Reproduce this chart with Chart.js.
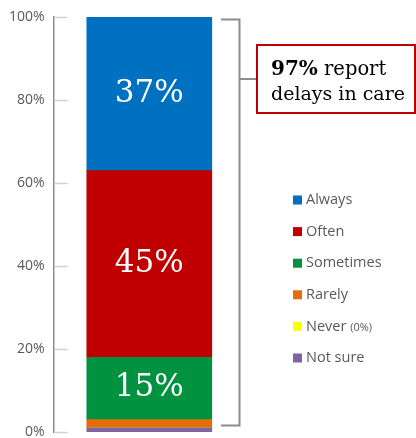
<!DOCTYPE html>
<html>
<head>
<meta charset="utf-8">
<script src="https://cdn.jsdelivr.net/npm/chart.js@4"></script>
<style>
  html, body { margin: 0; padding: 0; background: #fff; }
  #wrap { width: 416px; height: 438px; position: relative; }
</style>
</head>
<body>
<div id="wrap"><canvas id="myChartDelays"></canvas></div>
<script>
// Delays in care - START
const categories = [''];
// stacked bottom -> top
const seriesNames = ['Not sure', 'Never', 'Rarely', 'Sometimes', 'Often', 'Always'];
const seriesValues = [1, 0, 2, 15, 45, 37];
const seriesColors = ['#8064a2', '#ffff00', '#e46c0a', '#00923f', '#c00000', '#0070c0'];
const yTicks = [0, 20, 40, 60, 80, 100];
const reportedShare = 97;

const datasets = seriesNames.map(function (name, i) {
    return {
        label: name,
        data: [seriesValues[i]],
        backgroundColor: seriesColors[i],
        borderWidth: 0,
        barThickness: 125
    };
});

const greyText = '#595959';

// labels inside the big segments
const segmentLabels = {
    id: 'segmentLabels',
    afterDatasetsDraw(chart) {
        const ctx = chart.ctx;
        ctx.save();
        ctx.fillStyle = '#fff';
        ctx.font = '31px "DejaVu Serif"';
        ctx.textAlign = 'center';
        ctx.textBaseline = 'middle';
        chart.data.datasets.forEach(function (ds, i) {
            if (ds.data[0] < 10) return;
            const bar = chart.getDatasetMeta(i).data[0];
            ctx.fillText(ds.data[0] + '%', bar.x, (bar.y + bar.base) / 2);
        });
        ctx.restore();
    }
};

// tick marks drawn to the right of the axis line
const innerTicks = {
    id: 'innerTicks',
    afterDraw(chart) {
        const ctx = chart.ctx;
        const y = chart.scales.y;
        ctx.save();
        ctx.strokeStyle = '#d0d0d0';
        ctx.lineWidth = 1.5;
        yTicks.forEach(function (v) {
            const py = Math.round(y.getPixelForValue(v)) + 0.5;
            ctx.beginPath();
            ctx.moveTo(y.right + 1, py);
            ctx.lineTo(y.right + 14, py);
            ctx.stroke();
        });
        ctx.restore();
    }
};

// bracket + callout box
const callout = {
    id: 'callout',
    afterDraw(chart) {
        const ctx = chart.ctx;
        const y = chart.scales.y;
        const top = y.getPixelForValue(100) + 2.5;
        const bottom = y.getPixelForValue(100 - reportedShare) + 6;
        const bx = 239.5;
        ctx.save();
        ctx.strokeStyle = '#8c8c8c';
        ctx.lineWidth = 2;
        ctx.beginPath();
        ctx.moveTo(221, top);
        ctx.lineTo(bx, top);
        ctx.lineTo(bx, bottom);
        ctx.lineTo(221, bottom);
        ctx.stroke();
        ctx.beginPath();
        ctx.moveTo(bx, 79);
        ctx.lineTo(257, 79);
        ctx.stroke();

        ctx.strokeStyle = '#c00000';
        ctx.lineWidth = 2;
        ctx.strokeRect(257, 45, 158, 68);

        ctx.fillStyle = '#000';
        ctx.textBaseline = 'alphabetic';
        ctx.textAlign = 'left';
        ctx.font = 'bold 20px "DejaVu Serif"';
        ctx.fillText(reportedShare + '%', 271, 75);
        const w = ctx.measureText(reportedShare + '%').width;
        ctx.font = '19.5px "DejaVu Serif"';
        ctx.fillText(' report', 271 + w, 75);
        ctx.font = '19px "DejaVu Serif"';
        ctx.fillText('delays in care', 271, 100);
        ctx.restore();
    }
};

// legend, top item = top of stack
const sideLegend = {
    id: 'sideLegend',
    afterDraw(chart) {
        const ctx = chart.ctx;
        ctx.save();
        ctx.textBaseline = 'middle';
        ctx.textAlign = 'left';
        const n = chart.data.datasets.length;
        for (let k = 0; k < n; k++) {
            const ds = chart.data.datasets[n - 1 - k];
            const cy = 200 + k * 31.6;
            ctx.fillStyle = ds.backgroundColor;
            ctx.fillRect(293, cy - 4.5, 9, 9);
            ctx.fillStyle = greyText;
            ctx.font = '14.5px "Open Sans"';
            ctx.fillText(ds.label, 306, cy);
            if (ds.data[0] === 0) {
                const w = ctx.measureText(ds.label + ' ').width;
                ctx.font = '11px "Open Sans"';
                ctx.fillText('(0%)', 306 + w, cy + 1);
            }
        }
        ctx.restore();
    }
};

const delaysConfig = {
    type: 'bar',
    data: {
        labels: categories,
        datasets: datasets
    },
    options: {
        responsive: true,
        maintainAspectRatio: false,
        animation: false,
        layout: {
            padding: { top: 17, right: 171, bottom: 6, left: 0 }
        },
        plugins: {
            legend: { display: false },
            tooltip: { enabled: false },
            title: { display: false }
        },
        scales: {
            x: {
                stacked: true,
                display: false
            },
            y: {
                stacked: true,
                min: 0,
                max: 100,
                afterBuildTicks: function (axis) {
                    axis.ticks = yTicks.map(function (v) { return { value: v }; });
                },
                afterFit: function (axis) {
                    axis.paddingTop = 0;
                    axis.paddingBottom = 0;
                },
                ticks: {
                    color: greyText,
                    padding: 9,
                    font: { family: 'Open Sans', size: 14 },
                    callback: function (v) { return v + '%'; }
                },
                grid: { display: false, drawTicks: false },
                border: { display: true, color: '#8c8c8c', width: 1.5 }
            }
        }
    },
    plugins: [segmentLabels, innerTicks, callout, sideLegend]
};

new Chart('myChartDelays', delaysConfig);
// Delays in care - END
</script>
</body>
</html>
